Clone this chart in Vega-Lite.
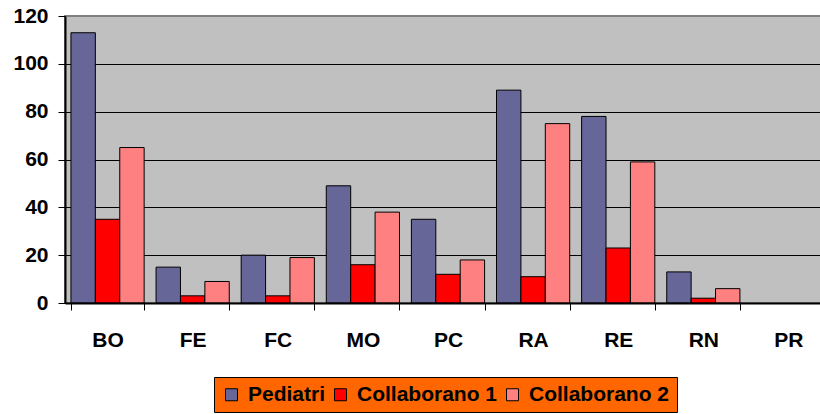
{
  "$schema": "https://vega.github.io/schema/vega-lite/v6.json",
  "autosize": "none",
  "padding": {"left": 65, "top": 16, "right": 0, "bottom": 111},
  "width": 766,
  "height": 287,
  "background": "white",
  "data": {
    "values": [
      {"sede": "BO", "serie": "Pediatri", "valore": 113},
      {"sede": "BO", "serie": "Collaborano 1", "valore": 35},
      {"sede": "BO", "serie": "Collaborano 2", "valore": 65},
      {"sede": "FE", "serie": "Pediatri", "valore": 15},
      {"sede": "FE", "serie": "Collaborano 1", "valore": 3},
      {"sede": "FE", "serie": "Collaborano 2", "valore": 9},
      {"sede": "FC", "serie": "Pediatri", "valore": 20},
      {"sede": "FC", "serie": "Collaborano 1", "valore": 3},
      {"sede": "FC", "serie": "Collaborano 2", "valore": 19},
      {"sede": "MO", "serie": "Pediatri", "valore": 49},
      {"sede": "MO", "serie": "Collaborano 1", "valore": 16},
      {"sede": "MO", "serie": "Collaborano 2", "valore": 38},
      {"sede": "PC", "serie": "Pediatri", "valore": 35},
      {"sede": "PC", "serie": "Collaborano 1", "valore": 12},
      {"sede": "PC", "serie": "Collaborano 2", "valore": 18},
      {"sede": "RA", "serie": "Pediatri", "valore": 89},
      {"sede": "RA", "serie": "Collaborano 1", "valore": 11},
      {"sede": "RA", "serie": "Collaborano 2", "valore": 75},
      {"sede": "RE", "serie": "Pediatri", "valore": 78},
      {"sede": "RE", "serie": "Collaborano 1", "valore": 23},
      {"sede": "RE", "serie": "Collaborano 2", "valore": 59},
      {"sede": "RN", "serie": "Pediatri", "valore": 13},
      {"sede": "RN", "serie": "Collaborano 1", "valore": 2},
      {"sede": "RN", "serie": "Collaborano 2", "valore": 6},
      {"sede": "PR", "serie": "Pediatri", "valore": null},
      {"sede": "PR", "serie": "Collaborano 1", "valore": null},
      {"sede": "PR", "serie": "Collaborano 2", "valore": null}
    ]
  },
  "mark": {"type": "bar", "stroke": "black", "strokeWidth": 1},
  "encoding": {
    "x": {
      "field": "sede",
      "type": "nominal",
      "sort": ["BO", "FE", "FC", "MO", "PC", "RA", "RE", "RN", "PR"],
      "scale": {"domain": ["BO", "FE", "FC", "MO", "PC", "RA", "RE", "RN", "PR"], "paddingInner": 0.14, "paddingOuter": 0.07},
      "axis": {
        "title": null,
        "labelAngle": 0,
        "labelFont": "Liberation Sans",
        "labelFontSize": 21,
        "labelFontWeight": "bold",
        "labelColor": "black",
        "labelPadding": 19,
        "labelBaseline": "top",
        "tickBand": "extent",
        "tickSize": 7,
        "tickColor": "black",
        "tickWidth": 1,
        "domainColor": "black",
        "domainWidth": 2,
        "zindex": 1
      }
    },
    "xOffset": {
      "field": "serie",
      "type": "nominal",
      "sort": ["Pediatri", "Collaborano 1", "Collaborano 2"],
      "scale": {"paddingInner": 0, "paddingOuter": 0}
    },
    "y": {
      "field": "valore",
      "type": "quantitative",
      "scale": {"domain": [0, 120], "nice": false},
      "axis": {
        "title": null,
        "values": [0, 20, 40, 60, 80, 100, 120],
        "labelFont": "Liberation Sans",
        "labelFontSize": 21,
        "labelFontWeight": "bold",
        "labelColor": "black",
        "labelPadding": 10,
        "tickSize": 7,
        "tickColor": "black",
        "tickWidth": 1,
        "domainColor": "black",
        "domainWidth": 2,
        "grid": true,
        "gridColor": {"condition": {"test": "datum.value === 120", "value": "#808080"}, "value": "black"},
        "gridWidth": 1,
        "gridOpacity": 1
      }
    },
    "color": {
      "field": "serie",
      "type": "nominal",
      "sort": ["Pediatri", "Collaborano 1", "Collaborano 2"],
      "scale": {"domain": ["Pediatri", "Collaborano 1", "Collaborano 2"], "range": ["#666699", "#FF0000", "#FF8080"]},
      "legend": {
        "title": null,
        "orient": "none",
        "legendX": 149,
        "legendY": 361,
        "direction": "horizontal",
        "fillColor": "#FF6600",
        "strokeColor": "black",
        "padding": 7,
        "symbolType": "square",
        "symbolSize": 144,
        "symbolStrokeColor": "black",
        "symbolStrokeWidth": 1,
        "symbolOpacity": 1,
        "labelFont": "Liberation Sans",
        "labelFontSize": 21,
        "labelFontWeight": "bold",
        "labelColor": "black",
        "labelOffset": 6,
        "columnPadding": 4,
        "labelLimit": 300
      }
    }
  },
  "config": {
    "view": {"fill": "#C0C0C0", "stroke": "#808080", "strokeWidth": 2}
  }
}
